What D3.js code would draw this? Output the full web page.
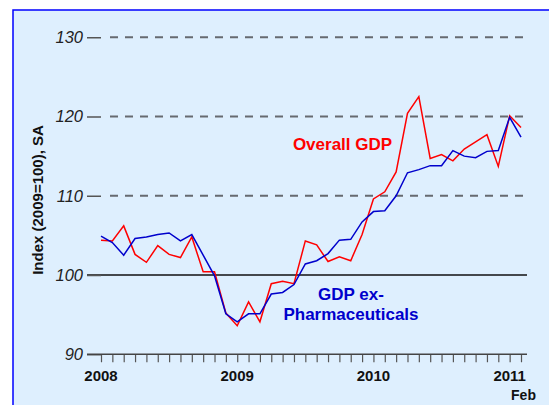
<!DOCTYPE html>
<html><head><meta charset="utf-8">
<script src="https://cdn.jsdelivr.net/npm/d3@7"></script>
<style>
html,body{margin:0;padding:0;background:#fff;}
svg{display:block;font-family:"Liberation Sans",Arial,sans-serif;}
</style></head>
<body><svg id="c" width="549" height="405"></svg>
<script>
// Monthly categories Jan 2008 .. Feb 2011
const months = ["2008-01","2008-02","2008-03","2008-04","2008-05","2008-06","2008-07","2008-08","2008-09","2008-10","2008-11","2008-12",
"2009-01","2009-02","2009-03","2009-04","2009-05","2009-06","2009-07","2009-08","2009-09","2009-10","2009-11","2009-12",
"2010-01","2010-02","2010-03","2010-04","2010-05","2010-06","2010-07","2010-08","2010-09","2010-10","2010-11","2010-12",
"2011-01","2011-02"];
const overallGDP = [104.4,104.3,106.2,102.6,101.6,103.7,102.6,102.2,104.8,100.4,100.4,95.2,
93.6,96.6,94.1,98.9,99.2,98.9,104.3,103.8,101.7,102.3,101.8,105.1,
109.6,110.5,113.0,120.4,122.5,114.7,115.2,114.4,115.9,116.8,117.7,113.7,
120.1,118.6];
const exPharma = [104.9,104.1,102.5,104.6,104.8,105.1,105.3,104.3,105.1,102.5,99.9,95.1,
94.1,95.1,95.1,97.6,97.8,98.8,101.4,101.8,102.7,104.4,104.5,106.7,
108.0,108.1,110.0,112.9,113.3,113.8,113.8,115.7,115.0,114.8,115.6,115.7,
119.9,117.4];
const yTicks = [90,100,110,120,130];
const yearLabels = [["2008-01","2008"],["2009-01","2009"],["2010-01","2010"],["2011-01","2011"]];
const endLabel = ["2011-02","Feb"];

const svg = d3.select("#c");
// panel
svg.append("rect").attr("x",13).attr("y",10).attr("width",560).attr("height",420)
  .attr("fill","#deeffe").attr("stroke","#0000ff").attr("stroke-width",1.5);

const x = d3.scalePoint().domain(months).range([101,521]);
const y = d3.scaleLinear().domain([90,130]).range([354.25,37.25]);
const X0 = 87, X1 = 527;

// gridlines
yTicks.filter(v=>v!==90 && v!==100).forEach(v=>{
  svg.append("line").attr("x1",110).attr("x2",X1+1).attr("y1",y(v)).attr("y2",y(v))
    .attr("stroke","#666a70").attr("stroke-width",2).attr("stroke-dasharray","8,7");
});
svg.append("line").attr("x1",X0).attr("x2",X1).attr("y1",y(100)).attr("y2",y(100))
  .attr("stroke","#111").attr("stroke-width",1.5);

// y axis
const ya = svg.append("g").attr("transform","translate(101,0)")
  .call(d3.axisLeft(y).tickValues(yTicks).tickSize(14).tickPadding(4).tickFormat(d3.format("d")));
ya.select(".domain").remove();
ya.selectAll(".tick line").attr("stroke","#555").attr("stroke-width",1.5);
ya.selectAll(".tick text").attr("font-size","16.5px").attr("font-style","italic")
  .attr("fill","#222").attr("font-family","Liberation Sans, Arial, sans-serif");

// x axis
const xa = svg.append("g").attr("transform",`translate(0,${y(90)})`)
  .call(d3.axisBottom(x).tickSize(8).tickFormat(""));
xa.select(".domain").remove();
xa.selectAll(".tick line").attr("stroke","#555").attr("stroke-width",1.2);
svg.append("line").attr("x1",X0).attr("x2",X1).attr("y1",y(90)).attr("y2",y(90))
  .attr("stroke","#444").attr("stroke-width",1.5);

yearLabels.forEach(([m,t])=>{
  svg.append("text").attr("x",x(m)).attr("y",381).attr("text-anchor","middle")
    .attr("font-size","15px").attr("font-weight","bold").attr("fill","#111").text(t);
});
svg.append("text").attr("x",x(endLabel[0])+2.5).attr("y",400).attr("text-anchor","middle")
  .attr("font-size","14px").attr("font-weight","bold").attr("fill","#111").text(endLabel[1]);

// y title
svg.append("text").attr("transform","translate(43,200) rotate(-90)").attr("text-anchor","middle")
  .attr("font-size","15px").attr("font-weight","bold").attr("fill","#111").text("Index (2009=100), SA");

// lines
const line = d3.line().x((d,i)=>x(months[i])).y(d=>y(d));
svg.append("path").datum(overallGDP).attr("d",line).attr("fill","none")
  .attr("stroke","#ff0000").attr("stroke-width",1.5).attr("stroke-linejoin","miter");
svg.append("path").datum(exPharma).attr("d",line).attr("fill","none")
  .attr("stroke","#0000cc").attr("stroke-width",1.5).attr("stroke-linejoin","miter");

// labels
svg.append("text").attr("x",342.5).attr("y",150).attr("text-anchor","middle")
  .attr("font-size","17px").attr("font-weight","bold").attr("fill","#ff0000").text("Overall GDP");
svg.append("text").attr("x",351).attr("y",300).attr("text-anchor","middle")
  .attr("font-size","17px").attr("font-weight","bold").attr("fill","#0000cc").text("GDP ex-");
svg.append("text").attr("x",351).attr("y",320).attr("text-anchor","middle")
  .attr("font-size","17px").attr("font-weight","bold").attr("fill","#0000cc").text("Pharmaceuticals");
</script></body></html>
